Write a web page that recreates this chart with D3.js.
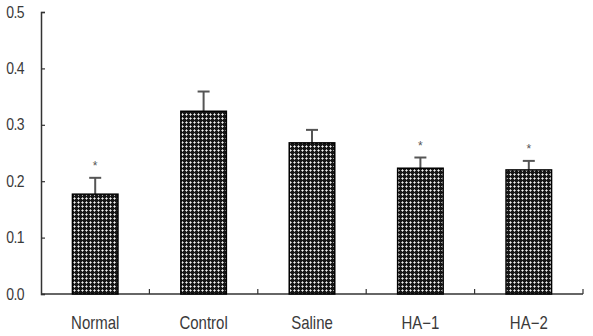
<!DOCTYPE html>
<html>
<head>
<meta charset="utf-8">
<script src="https://cdn.jsdelivr.net/npm/d3@7"></script>
<style>
  body { margin: 0; background: #fff; }
  svg text { font-family: "Liberation Sans", Arial, sans-serif; fill: #3a3a3a; }
</style>
</head>
<body>
<div id="chart"></div>
<script>
// values
const groups = ["Normal", "Control", "Saline", "HA-1", "HA-2"]
const means = [0.177, 0.324, 0.268, 0.223, 0.220]
const sds = [0.029, 0.035, 0.023, 0.019, 0.016]
const starred = [true, false, false, true, true]
const yTicks = [0.0, 0.1, 0.2, 0.3, 0.4, 0.5]

const width = 593, height = 336
const margin = {top: 12, right: 10, bottom: 42, left: 41}

const svg = d3.select("#chart").append("svg")
    .attr("width", width).attr("height", height)

// crosshatch fill
const pat = svg.append("defs").append("pattern")
    .attr("id", "hatch").attr("patternUnits", "userSpaceOnUse")
    .attr("width", 4).attr("height", 4)
pat.append("rect").attr("width", 4).attr("height", 4).attr("fill", "#161616")
pat.append("rect").attr("x", 1).attr("y", 2).attr("width", 3).attr("height", 1).attr("fill", "#a8a8a8")
pat.append("rect").attr("x", 2).attr("y", 1).attr("width", 1).attr("height", 3).attr("fill", "#a8a8a8")
pat.append("rect").attr("x", 2).attr("y", 2).attr("width", 1).attr("height", 1).attr("fill", "#f0f0f0")

const x = d3.scaleBand().domain(groups)
    .range([margin.left, 583]).paddingInner(0.58).paddingOuter(0.29)
const xb = d3.scaleBand().domain(groups).range([margin.left, 583])
const y = d3.scaleLinear().domain([0, 0.5]).range([294, margin.top])

// y axis
const yAxis = svg.append("g").attr("transform", `translate(${margin.left},0)`)
    .call(d3.axisRight(y).tickValues(yTicks).tickSize(4).tickFormat(d3.format(".1f")))
yAxis.select(".domain").attr("stroke", "#333").attr("stroke-width", 1.5)
yAxis.selectAll(".tick line").attr("stroke", "#333").attr("stroke-width", 1.2)
yAxis.selectAll(".tick text").attr("x", null).attr("dy", null).attr("text-anchor", "end")
    .attr("transform", "translate(-17,5) scale(1,1.12)")
    .style("font-size", "14px").style("letter-spacing", "-0.6px")

// x axis with ticks at band edges
svg.append("line").attr("x1", margin.left).attr("x2", 583)
    .attr("y1", y(0)).attr("y2", y(0)).attr("stroke", "#333").attr("stroke-width", 1.5)
svg.selectAll(".xtick").data(groups).join("line")
    .attr("x1", d => xb(d) + xb.bandwidth()).attr("x2", d => xb(d) + xb.bandwidth())
    .attr("y1", y(0)).attr("y2", y(0) - 5)
    .attr("stroke", "#333").attr("stroke-width", 1.2)
svg.selectAll(".xlab").data(groups).join("text")
    .attr("transform", d => `translate(${x(d) + x.bandwidth() / 2},329) scale(1,1.18)`)
    .attr("text-anchor", "middle").style("font-size", "15px")
    .text(d => d.replace("-", "\u2212"))

// error bars (upper only)
const cx = d => x(d) + x.bandwidth() / 2
svg.selectAll(".err").data(groups).join("line")
    .attr("x1", cx).attr("x2", cx)
    .attr("y1", (d, i) => y(means[i])).attr("y2", (d, i) => y(means[i] + sds[i]))
    .attr("stroke", "#555").attr("stroke-width", 2)
svg.selectAll(".cap").data(groups).join("line")
    .attr("x1", d => cx(d) - 6).attr("x2", d => cx(d) + 6)
    .attr("y1", (d, i) => y(means[i] + sds[i])).attr("y2", (d, i) => y(means[i] + sds[i]))
    .attr("stroke", "#555").attr("stroke-width", 2)

// bars
svg.selectAll(".bar").data(groups).join("rect")
    .attr("x", d => x(d)).attr("width", x.bandwidth())
    .attr("y", (d, i) => y(means[i])).attr("height", (d, i) => y(0) - y(means[i]))
    .attr("fill", "url(#hatch)").attr("stroke", "#000").attr("stroke-width", 1.5)

// significance marks
svg.selectAll(".star").data(groups.filter((d, i) => starred[i])).join("text")
    .attr("x", cx)
    .attr("y", d => { const i = groups.indexOf(d); return y(means[i] + sds[i]) - 8 })
    .attr("text-anchor", "middle").style("font-size", "12px").style("fill", "#555")
    .text("*")
</script>
</body>
</html>
